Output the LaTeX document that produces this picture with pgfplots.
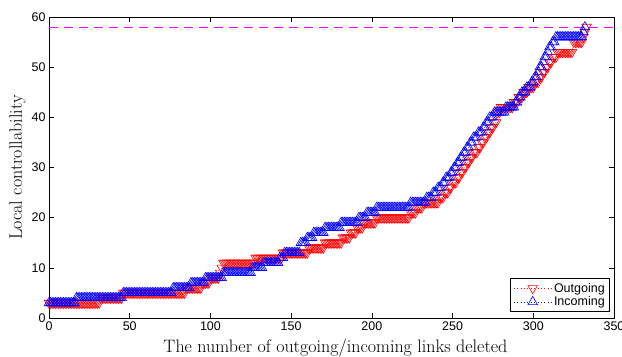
\documentclass[border=0pt]{standalone}
\usepackage{fontspec}
\usepackage{pgfplots}
\pgfplotsset{compat=1.18}
\newfontfamily\hel{Liberation Sans}
\definecolor{rd}{rgb}{1,0,0}
\definecolor{bl}{rgb}{0,0,1}
\begin{document}
\begin{tikzpicture}
\begin{axis}[
  scale only axis, width=565pt, height=301pt,
  xmin=0, xmax=350, ymin=0, ymax=60,
  xtick={0,50,...,350}, ytick={0,10,...,60},
  tick align=inside, major tick length=5pt,
  axis line style={line width=0.6pt},
  every tick/.style={black, line width=0.6pt},
  tick label style={font=\hel\fontsize{12.5}{14}\selectfont},
  /pgf/number format/assume math mode=true,
  label style={font=\fontsize{18}{20}\selectfont},
  xlabel={The number of outgoing/incoming links deleted},
  ylabel={Local controllability},
  xlabel style={at={(axis description cs:0.507,-0.113)}, anchor=base, inner sep=0pt},
  ylabel style={at={(axis description cs:-0.048,0.5)}, anchor=base, inner sep=0pt},
  legend style={at={(axis description cs:0.993,0.02)}, anchor=south east,
    font=\hel\fontsize{12.5}{14}\selectfont, draw=black, line width=0.6pt,
    inner xsep=3pt, inner ysep=2.5pt, row sep=-1pt, nodes={inner sep=2pt}},
  legend cell align=left,
  legend image code/.code={\draw[mark repeat=2,mark phase=2] plot coordinates {(0pt,0pt) (19pt,0pt) (38pt,0pt)};},
]
\coordinate (bl) at (rel axis cs:0,0);
\coordinate (tr) at (rel axis cs:1,1);
\addplot[color={rgb,255:red,255;green,0;blue,255}, dash pattern=on 9pt off 6pt, line width=1pt, forget plot] coordinates {(0,58) (350,58)};

\addplot[rd, dash pattern=on 0.8pt off 2.6pt, line width=0.5pt, mark=triangle, mark size=5.5pt, mark options={solid, line width=0.6pt, rotate=180}] coordinates {
(0,3) (1,3) (2,3) (3,3) (4,3) (5,3) (6,3) (7,3) (8,3) (9,3) (10,3) (11,3) (12,3) (13,3) (14,3) (15,3) (16,3) (17,3) (18,3) (19,3) (20,3) (21,3) (22,3) (23,3) (24,3) (25,3) (26,3) (27,3) (28,3) (29,3) (30,3) (31,3)
(32,4) (33,4) (34,4) (35,4) (36,4) (37,4) (38,4) (39,4) (40,4) (41,4) (42,4) (43,4) (44,4) (45,4)
(46,5) (47,5) (48,5) (49,5) (50,5) (51,5) (52,5) (53,5) (54,5) (55,5) (56,5) (57,5) (58,5) (59,5) (60,5) (61,5) (62,5) (63,5) (64,5) (65,5) (66,5) (67,5) (68,5) (69,5) (70,5) (71,5) (72,5) (73,5) (74,5) (75,5) (76,5) (77,5) (78,5) (79,5) (80,5) (81,5) (82,5) (83,5) (84,5)
(85,6) (86,6) (87,6) (88,6) (89,6) (90,6) (91,6) (92,6) (93,6) (94,6)
(95,7) (96,7) (97,7) (98,7) (99,7)
(100,8) (101,8) (102,8) (103,8) (104,8) (105,8) (106,9) (107,10)
(108,11) (109,11) (110,11) (111,11) (112,11) (113,11) (114,11) (115,11) (116,11) (117,11) (118,11) (119,11) (120,11) (121,11) (122,11) (123,11) (124,11) (125,11) (126,11) (127,11)
(128,12) (129,12) (130,12) (131,12) (132,12) (133,12) (134,12) (135,12) (136,12) (137,12) (138,12) (139,12) (140,12) (141,12) (142,12) (143,12) (144,12)
(145,13) (146,13) (147,13) (148,13) (149,13) (150,13) (151,13) (152,13) (153,13) (154,13) (155,13) (156,13) (157,13) (158,13) (159,13) (160,13)
(161,14) (162,14) (163,14) (164,14) (165,14) (166,14) (167,14) (168,14) (169,14) (170,14)
(171,15) (172,15) (173,15) (174,15) (175,15) (176,15) (177,15) (178,15) (179,15) (180,15) (181,15)
(182,16) (183,16) (184,16) (185,16) (186,16)
(187,17) (188,17) (189,17) (190,17)
(191,18) (192,18) (193,18) (194,18)
(195,19) (196,19) (197,19) (198,19) (199,19) (200,19) (201,19) (202,19)
(203,20) (204,20) (205,20) (206,20) (207,20) (208,20) (209,20) (210,20) (211,20) (212,20) (213,20) (214,20) (215,20) (216,20) (217,20) (218,20) (219,20) (220,20) (221,20) (222,20) (223,20)
(224,21) (225,21) (226,21) (227,21)
(228,22) (229,22) (230,22) (231,22)
(232,23) (233,23) (234,23) (235,23) (236,23) (237,23) (238,23) (239,23) (240,23) (241,23)
(242,24) (243,24) (244,24)
(245,25) (246,25) (247,25)
(248,26) (249,26)
(250,27) (251,27) (252,27)
(253,28) (254,28)
(255,29) (256,29)
(257,30) (258,30)
(259,31) (260,31)
(261,32) (262,32)
(263,33) (264,33) (265,33)
(266,34) (267,34)
(268,35) (269,35)
(270,36) (271,36)
(272,37) (273,37)
(274,38) (275,38)
(276,39) (277,39)
(278,41) (279,41)
(280,42) (281,42) (282,42) (283,42) (284,42) (285,42) (286,42) (287,42)
(288,43) (289,43) (290,43)
(291,44) (292,44) (293,44)
(294,45) (295,45) (296,45)
(297,46) (298,46) (299,46) (300,46)
(301,47) (302,47) (303,47)
(304,48) (305,48)
(306,49) (307,49)
(308,50) (309,50)
(310,51) (311,51)
(312,52) (313,52) (314,52)
(315,53) (316,53) (317,53) (318,53) (319,53) (320,53) (321,53) (322,53) (323,53) (324,53)
(325,55) (326,55) (327,55) (328,55) (329,55) (330,55)
(331,56) (332,57) (333,58)
};
\addlegendentry{Outgoing}

\addplot[bl, dash pattern=on 0.8pt off 2.6pt, line width=0.5pt, mark=triangle, mark size=5.5pt, mark options={solid, line width=0.6pt}] coordinates {
(0,3) (1,3) (2,3) (3,3) (4,3) (5,3) (6,3) (7,3) (8,3) (9,3) (10,3) (11,3) (12,3) (13,3) (14,3) (15,3) (16,3)
(17,4) (18,4) (19,4) (20,4) (21,4) (22,4) (23,4) (24,4) (25,4) (26,4) (27,4) (28,4) (29,4) (30,4) (31,4) (32,4) (33,4) (34,4) (35,4) (36,4) (37,4) (38,4) (39,4) (40,4) (41,4) (42,4) (43,4) (44,4) (45,4)
(46,5) (47,5) (48,5) (49,5) (50,5) (51,5) (52,5) (53,5) (54,5) (55,5) (56,5) (57,5) (58,5) (59,5) (60,5) (61,5) (62,5) (63,5) (64,5) (65,5) (66,5) (67,5) (68,5) (69,5) (70,5) (71,5) (72,5) (73,5) (74,5) (75,5) (76,5)
(77,6) (78,6) (79,6) (80,6) (81,6) (82,6) (83,6) (84,6) (85,6) (86,6) (87,6)
(88,7) (89,7) (90,7) (91,7) (92,7) (93,7) (94,7) (95,7) (96,7)
(97,8) (98,8) (99,8) (100,8) (101,8) (102,8) (103,8) (104,8) (105,8) (106,8) (107,8)
(108,9) (109,9) (110,9) (111,9) (112,9) (113,9) (114,9) (115,9) (116,9) (117,9) (118,9) (119,9) (120,9) (121,9) (122,9) (123,9) (124,9) (125,9)
(126,10) (127,10) (128,10) (129,10) (130,10) (131,10) (132,10)
(133,11) (134,11) (135,11) (136,11) (137,11) (138,11) (139,11) (140,11) (141,11) (142,11)
(143,12) (144,12) (145,12)
(146,13) (147,13) (148,13) (149,13) (150,13) (151,13) (152,13) (153,13) (154,13) (155,13)
(156,15) (157,15) (158,15) (159,15)
(160,16) (161,16) (162,16) (163,16)
(164,17) (165,17) (166,17) (167,17) (168,17) (169,17) (170,17)
(171,18) (172,18) (173,18) (174,18) (175,18) (176,18) (177,18) (178,18) (179,18) (180,18)
(181,19) (182,19) (183,19) (184,19) (185,19) (186,19) (187,19) (188,19) (189,19) (190,19) (191,19)
(192,20) (193,20) (194,20) (195,20) (196,20)
(197,21) (198,21) (199,21) (200,21) (201,21) (202,21)
(203,22) (204,22) (205,22) (206,22) (207,22) (208,22) (209,22) (210,22) (211,22) (212,22) (213,22) (214,22) (215,22) (216,22) (217,22) (218,22) (219,22) (220,22) (221,22) (222,22) (223,22)
(224,23) (225,23) (226,23) (227,23) (228,23) (229,23) (230,23) (231,23) (232,23) (233,23)
(234,24) (235,24) (236,24) (237,24)
(238,25) (239,25) (240,25)
(241,26) (242,26) (243,26)
(244,27) (245,27)
(246,28) (247,28) (248,28)
(249,29) (250,29)
(251,30) (252,30)
(253,31) (254,31)
(255,32) (256,32)
(257,33) (258,33)
(259,34) (260,34)
(261,35) (262,35)
(263,36) (264,36) (265,36)
(266,37) (267,37) (268,37)
(269,38) (270,38)
(271,39) (272,39)
(273,40) (274,40) (275,40)
(276,41) (277,41) (278,41) (279,41) (280,41) (281,41) (282,41)
(283,42) (284,42) (285,42) (286,42) (287,42) (288,42)
(289,43) (290,43)
(291,44) (292,44)
(293,45) (294,45) (295,45)
(296,46) (297,46) (298,46)
(299,47) (300,47)
(301,48) (302,48)
(303,49)
(304,50) (305,50)
(306,51)
(307,52) (308,52)
(309,53)
(310,54) (311,54)
(312,55) (313,55)
(314,56) (315,56) (316,56) (317,56) (318,56) (319,56) (320,56) (321,56) (322,56) (323,56) (324,56) (325,56) (326,56) (327,56) (328,56) (329,56) (330,56)
(331,57) (332,58)
};
\addlegendentry{Incoming}
\end{axis}
\pgfresetboundingbox
\path ([shift={(-49pt,-38pt)}]bl) rectangle ([shift={(8pt,17pt)}]tr);
\end{tikzpicture}
\end{document}
